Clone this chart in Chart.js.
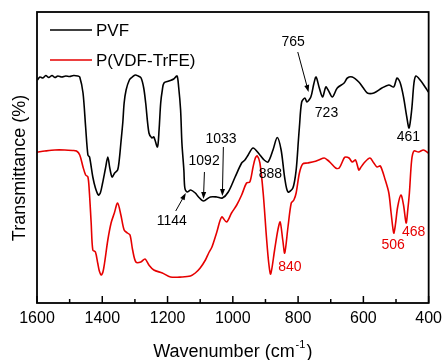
<!DOCTYPE html>
<html>
<head>
<meta charset="utf-8">
<script src="https://cdn.jsdelivr.net/npm/chart.js@4.4.0/dist/chart.umd.min.js"></script>
<style>
  html, body { margin: 0; padding: 0; background: #fff; }
  #wrap { width: 448px; height: 360px; position: relative; }
</style>
</head>
<body>
<div id="wrap"><canvas id="ftir"></canvas></div>
<script>
// FTIR spectra: PVF vs P(VDF-TrFE), transmittance in arbitrary units

var PVF_WN = [1599, 1591, 1582, 1573, 1564, 1554, 1545, 1536, 1524, 1512, 1500, 1488, 1475, 1469, 1459, 1451, 1444, 1439,
  1429, 1421, 1412, 1406, 1399, 1390, 1383, 1377, 1370, 1362, 1353, 1348, 1343, 1337, 1333, 1327, 1317, 1308, 1299, 1290,
  1281, 1273, 1267, 1257, 1248, 1242, 1231, 1226, 1221, 1216, 1211, 1196, 1181, 1171, 1166, 1160, 1156, 1150, 1147, 1140,
  1129, 1115, 1105, 1090, 1069, 1049, 1032, 1014, 993, 973, 963, 953, 938, 917, 904, 892, 877, 864, 852, 841, 831, 816,
  806, 799, 796, 789, 779, 773, 761, 752, 745, 735, 725, 715, 708, 695, 680, 659, 649, 634, 614, 600, 588, 568, 543, 522,
  507, 497, 487, 477, 467, 460, 452, 445, 439, 426, 411, 401];
var PVF_T = [223, 226, 225, 227.5, 225.5, 227.5, 225.5, 227, 226, 227, 226.5, 227.5, 227, 226, 210, 176, 148, 146,
  126, 115, 108, 110, 120, 135, 146, 135, 126, 130, 133, 143, 160, 181, 200, 213, 223, 226, 228, 227,
  225, 215, 200, 170, 165, 166, 156, 173, 200, 213, 220, 222, 224, 227, 216, 193, 160, 133, 115, 111,
  113, 110, 106, 102, 106, 106, 105, 111, 126, 140, 143, 148, 155, 148, 143, 141, 153, 165.5, 153, 125, 111, 115,
  133, 163, 176, 201, 205, 201, 206, 219, 226, 215, 206, 216, 213, 206, 215, 220, 225, 226, 221, 215, 210, 210, 215, 218,
  216, 225, 220, 206, 186, 175, 193, 220, 227, 223, 216, 211];

var PVDF_WN = [1599, 1576, 1545, 1515, 1491, 1479, 1469, 1459, 1451, 1444, 1440, 1434, 1429, 1421, 1414, 1409, 1403, 1398,
  1393, 1383, 1373, 1363, 1353, 1343, 1333, 1323, 1315, 1307, 1297, 1282, 1269, 1257, 1242, 1216, 1191, 1156, 1130, 1115,
  1100, 1084, 1074, 1064, 1049, 1034, 1019, 1004, 988, 973, 958, 948, 938, 931, 925, 917, 907, 897, 890, 884, 872, 862,
  855, 847, 841, 831, 821, 813, 806, 796, 786, 771, 750, 737, 720, 710, 700, 685, 674, 659, 654, 644, 634, 624, 614, 609,
  598, 580, 568, 558, 548, 533, 522, 515, 507, 502, 495, 485, 477, 469, 464, 459, 452, 445, 431, 416, 401];
var PVDF_T = [151, 152, 153, 153, 152.5, 152, 148, 136, 128, 126, 113, 80, 53, 51, 40, 32, 28, 31,
  40, 63, 80, 90, 100, 88, 73, 70, 68, 53, 41, 41, 44, 38, 33, 30, 26, 26, 27, 30,
  35, 43, 50, 56, 71, 86, 81, 90, 98, 108, 120, 121, 136, 145, 147, 140, 110, 66, 40, 29, 53, 73,
  81, 63, 50, 76, 100, 103, 110, 130, 139, 140, 141.5, 143, 145, 143, 140, 135, 135, 145, 146, 145, 141, 143, 133, 135,
  140, 145, 140, 136, 137, 123, 110, 90, 70, 78, 96, 108, 98, 80, 93, 110, 143, 152, 151, 153, 150];

var X_TICKS = [1600, 1400, 1200, 1000, 800, 600, 400];

// peak labels: text, wavenumber, transmittance
var PVF_PEAKS = ['765', '723', '461', '888', '1033', '1092', '1144'];
var PVF_PEAK_WN = [815, 713, 462, 885, 1036, 1088, 1187];
var PVF_PEAK_T = [261, 190, 166, 129, 163.5, 141.5, 81.5];
var PVDF_PEAKS = ['840', '506', '468'];
var PVDF_PEAK_WN = [825, 509, 446];
var PVDF_PEAK_T = [36, 58, 71];

// arrows: [fromWn, fromT, toWn, toT]
var ARROWS = [
  [801, 251, 768, 211],
  [1029, 156, 1032, 107],
  [1087, 131, 1090, 104],
  [1175, 92, 1144, 110]
];

var BLACK = '#000000';
var RED = '#e60000';
var FONT = "'Liberation Sans', Arial, sans-serif";

function pts(wn, t) {
  return wn.map(function (w, i) { return { x: w, y: t[i] }; });
}

var framePlugin = {
  id: 'frame',
  afterDraw: function (chart) {
    var ctx = chart.ctx, a = chart.chartArea, xs = chart.scales.x;
    ctx.save();
    ctx.strokeStyle = '#000';
    ctx.lineWidth = 1.8;
    ctx.strokeRect(a.left, a.top, a.right - a.left, a.bottom - a.top);
    // inward ticks on bottom axis
    ctx.lineWidth = 1.5;
    for (var v = 400; v <= 1600; v += 100) {
      var px = xs.getPixelForValue(v);
      var len = (v % 200 === 0) ? 7 : 4;
      ctx.beginPath();
      ctx.moveTo(px, a.bottom);
      ctx.lineTo(px, a.bottom - len);
      ctx.stroke();
    }
    ctx.restore();
  }
};

var labelsPlugin = {
  id: 'peakLabels',
  afterDatasetsDraw: function (chart) {
    var ctx = chart.ctx, xs = chart.scales.x, ys = chart.scales.y, a = chart.chartArea;
    ctx.save();
    ctx.font = '14px ' + FONT;
    ctx.textAlign = 'center';
    ctx.textBaseline = 'middle';
    ctx.fillStyle = BLACK;
    PVF_PEAKS.forEach(function (s, i) {
      ctx.fillText(s, xs.getPixelForValue(PVF_PEAK_WN[i]), ys.getPixelForValue(PVF_PEAK_T[i]));
    });
    ctx.fillStyle = RED;
    PVDF_PEAKS.forEach(function (s, i) {
      ctx.fillText(s, xs.getPixelForValue(PVDF_PEAK_WN[i]), ys.getPixelForValue(PVDF_PEAK_T[i]));
    });

    // arrows
    ctx.strokeStyle = BLACK;
    ctx.fillStyle = BLACK;
    ctx.lineWidth = 1;
    ARROWS.forEach(function (ar) {
      var x1 = xs.getPixelForValue(ar[0]), y1 = ys.getPixelForValue(ar[1]);
      var x2 = xs.getPixelForValue(ar[2]), y2 = ys.getPixelForValue(ar[3]);
      var ang = Math.atan2(y2 - y1, x2 - x1);
      ctx.beginPath();
      ctx.moveTo(x1, y1);
      ctx.lineTo(x2 - 5 * Math.cos(ang), y2 - 5 * Math.sin(ang));
      ctx.stroke();
      ctx.beginPath();
      ctx.moveTo(x2, y2);
      ctx.lineTo(x2 - 7 * Math.cos(ang) + 2.5 * Math.sin(ang), y2 - 7 * Math.sin(ang) - 2.5 * Math.cos(ang));
      ctx.lineTo(x2 - 7 * Math.cos(ang) - 2.5 * Math.sin(ang), y2 - 7 * Math.sin(ang) + 2.5 * Math.cos(ang));
      ctx.closePath();
      ctx.fill();
    });

    // legend inside the plot, top-left
    ctx.font = '17px ' + FONT;
    ctx.textAlign = 'left';
    chart.data.datasets.forEach(function (ds, i) {
      var y = a.top + 18 + i * 30;
      ctx.strokeStyle = ds.borderColor;
      ctx.lineWidth = 1.6;
      ctx.beginPath();
      ctx.moveTo(a.left + 13, y);
      ctx.lineTo(a.left + 55, y);
      ctx.stroke();
      ctx.fillStyle = BLACK;
      ctx.fillText(ds.label, a.left + 59, y + 1);
    });

    // axis titles
    ctx.fillStyle = BLACK;
    ctx.font = '18px ' + FONT;
    var main = 'Wavenumber (cm';
    var sup = '-1';
    var tail = ')';
    var wMain = ctx.measureText(main).width;
    var wTail = ctx.measureText(tail).width;
    ctx.font = '11px ' + FONT;
    var wSup = ctx.measureText(sup).width + 2;
    var cx = (a.left + a.right) / 2;
    var x0 = cx - (wMain + wSup + wTail) / 2;
    var base = 357;
    ctx.textBaseline = 'alphabetic';
    ctx.font = '18px ' + FONT;
    ctx.fillText(main, x0, base);
    ctx.font = '11px ' + FONT;
    ctx.fillText(sup, x0 + wMain + 1, base - 9);
    ctx.font = '18px ' + FONT;
    ctx.fillText(tail, x0 + wMain + wSup, base);

    ctx.translate(20, 168);
    ctx.rotate(-Math.PI / 2);
    ctx.textAlign = 'center';
    ctx.textBaseline = 'middle';
    ctx.fillText('Transmittance (%)', 0, 0);
    ctx.restore();
  }
};

new Chart(document.getElementById('ftir').getContext('2d'), {
  type: 'line',
  data: {
    datasets: [
      { label: 'PVF', data: pts(PVF_WN, PVF_T), borderColor: BLACK, borderWidth: 1.6, pointRadius: 0, tension: 0.3, fill: false },
      { label: 'P(VDF-TrFE)', data: pts(PVDF_WN, PVDF_T), borderColor: RED, borderWidth: 1.6, pointRadius: 0, tension: 0.3, fill: false }
    ]
  },
  options: {
    responsive: true, maintainAspectRatio: false, animation: false,
    layout: { padding: { left: 37, right: 16, top: 12, bottom: 0 } },
    plugins: { legend: { display: false }, tooltip: { enabled: false } },
    scales: {
      x: {
        type: 'linear', min: 400, max: 1600, reverse: true,
        afterBuildTicks: function (s) { s.ticks = X_TICKS.map(function (v) { return { value: v }; }); },
        afterFit: function (s) { s.height = 57; },
        grid: { display: false, drawTicks: false },
        border: { display: false },
        ticks: {
          color: '#000', font: { family: FONT, size: 16 }, padding: 6, maxRotation: 0, autoSkip: false,
          callback: function (v) { return String(v); }
        }
      },
      y: { display: false, min: 0, max: 291 }
    }
  },
  plugins: [framePlugin, labelsPlugin]
});
</script>
</body>
</html>
